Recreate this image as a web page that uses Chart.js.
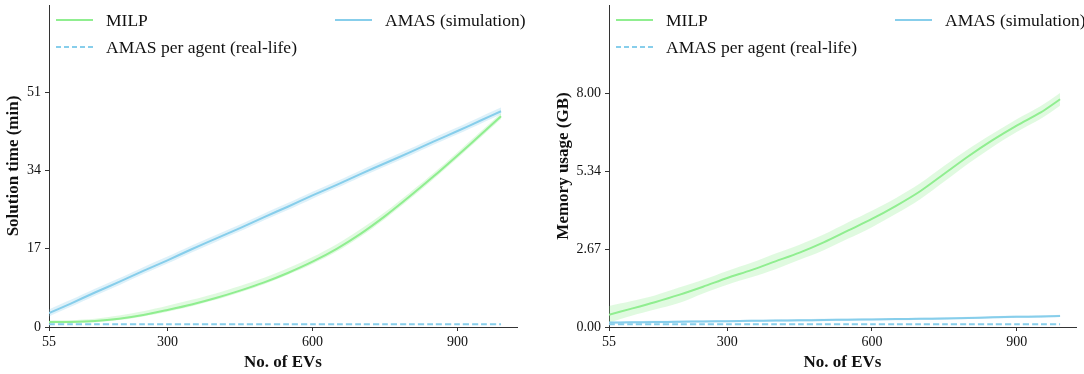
<!DOCTYPE html>
<html>
<head>
<meta charset="utf-8">
<script src="https://cdn.jsdelivr.net/npm/chart.js@4.4.1/dist/chart.umd.min.js"></script>
<style>
  html, body { margin: 0; padding: 0; background: #fff; }
  #wrap { position: relative; width: 1084px; height: 374px; }
  canvas { position: absolute; top: 0; }
  #timeChart { left: 0; }
  #memChart { left: 542px; }
</style>
</head>
<body>
<div id="wrap">
  <canvas id="timeChart" width="542" height="374"></canvas>
  <canvas id="memChart" width="542" height="374"></canvas>
</div>
<script>
// number of EVs
const evs = [55, 100, 150, 200, 250, 300, 350, 400, 450, 500, 550, 600, 650, 700, 750, 800, 850, 900, 950, 990];
const xTicks = [55, 300, 600, 900];

// solution time (min)
const milpTime = [1.1, 1.1, 1.3, 1.8, 2.6, 3.7, 4.9, 6.3, 7.9, 9.7, 11.8, 14.2, 17.0, 20.3, 24.1, 28.3, 32.7, 37.3, 42.0, 45.8];
const milpTimeLo = [0.8, 0.8, 1.0, 1.5, 2.3, 3.3, 4.5, 5.9, 7.5, 9.3, 11.4, 13.7, 16.4, 19.7, 23.5, 27.7, 32.1, 36.7, 41.4, 45.2];
const milpTimeHi = [1.4, 1.5, 1.8, 2.5, 3.4, 4.6, 5.9, 7.3, 8.9, 10.7, 12.8, 15.2, 18.0, 21.3, 25.0, 29.1, 33.4, 38.0, 42.7, 46.5];
const amasTime = [3.0, 5.1, 7.5, 9.8, 12.2, 14.5, 16.9, 19.2, 21.5, 23.9, 26.2, 28.6, 30.9, 33.3, 35.6, 37.9, 40.3, 42.6, 45.0, 46.9];
const amasTimeLo = [2.3, 4.4, 6.8, 9.1, 11.5, 13.8, 16.2, 18.5, 20.8, 23.2, 25.5, 27.9, 30.2, 32.6, 34.9, 37.2, 39.6, 41.9, 44.3, 46.2];
const amasTimeHi = [3.8, 5.9, 8.3, 10.6, 13.0, 15.3, 17.7, 20.0, 22.3, 24.7, 27.0, 29.4, 31.7, 34.1, 36.4, 38.7, 41.1, 43.4, 45.8, 47.7];
const agentTime = [0.6, 0.6, 0.6, 0.6, 0.6, 0.6, 0.6, 0.6, 0.6, 0.6, 0.6, 0.6, 0.6, 0.6, 0.6, 0.6, 0.6, 0.6, 0.6, 0.6];
const timeTicks = [0, 17, 34, 51];

// memory usage (GB)
const milpMem = [0.42, 0.62, 0.85, 1.1, 1.38, 1.68, 1.95, 2.25, 2.55, 2.9, 3.3, 3.7, 4.15, 4.65, 5.25, 5.85, 6.4, 6.9, 7.35, 7.8];
const milpMemLo = [0.15, 0.38, 0.6, 0.82, 1.15, 1.45, 1.7, 1.98, 2.3, 2.63, 3.02, 3.42, 3.88, 4.38, 4.98, 5.6, 6.17, 6.68, 7.13, 7.58];
const milpMemHi = [0.72, 0.88, 1.08, 1.35, 1.62, 1.92, 2.2, 2.52, 2.82, 3.17, 3.58, 3.98, 4.42, 4.92, 5.52, 6.1, 6.62, 7.12, 7.57, 8.02];
const amasMem = [0.15, 0.16, 0.17, 0.18, 0.19, 0.2, 0.21, 0.22, 0.23, 0.24, 0.25, 0.26, 0.27, 0.28, 0.29, 0.31, 0.33, 0.35, 0.36, 0.38];
const amasMemLo = [0.11, 0.12, 0.13, 0.14, 0.15, 0.16, 0.17, 0.18, 0.19, 0.2, 0.21, 0.22, 0.23, 0.24, 0.25, 0.27, 0.29, 0.31, 0.32, 0.34];
const amasMemHi = [0.19, 0.2, 0.21, 0.22, 0.23, 0.24, 0.25, 0.26, 0.27, 0.28, 0.29, 0.3, 0.31, 0.32, 0.33, 0.35, 0.37, 0.39, 0.4, 0.42];
const agentMem = [0.09, 0.09, 0.09, 0.09, 0.09, 0.09, 0.09, 0.09, 0.09, 0.09, 0.09, 0.09, 0.09, 0.09, 0.09, 0.09, 0.09, 0.09, 0.09, 0.09];
const memTicks = [0, 2.67, 5.34, 8.0];

const legendLabels = ['MILP', 'AMAS (simulation)', 'AMAS per agent (real-life)'];

const GREEN = '#90ee90';
const GREEN_BAND = 'rgba(144,238,144,0.28)';
const BLUE = '#87ceeb';
const BLUE_BAND = 'rgba(135,206,235,0.28)';
const FONT = "'Liberation Serif', 'Times New Roman', serif";

const pts = (ys) => ys.map((y, i) => ({ x: evs[i], y: y }));

// two-column legend like the matplotlib one
const legendPlugin = {
    id: 'twoColLegend',
    afterDraw(chart) {
        const ctx = chart.ctx;
        const left = chart.chartArea.left;
        const items = [
            { label: legendLabels[0], color: GREEN, dash: [], x: left + 7, y: 20 },
            { label: legendLabels[1], color: BLUE, dash: [], x: left + 286, y: 20 },
            { label: legendLabels[2], color: BLUE, dash: [5, 3], x: left + 7, y: 47 }
        ];
        ctx.save();
        ctx.font = '17.5px ' + FONT;
        ctx.textBaseline = 'middle';
        ctx.fillStyle = '#111';
        for (const it of items) {
            ctx.strokeStyle = it.color;
            ctx.lineWidth = 2;
            ctx.setLineDash(it.dash);
            ctx.beginPath();
            ctx.moveTo(it.x, it.y);
            ctx.lineTo(it.x + 37, it.y);
            ctx.stroke();
            ctx.setLineDash([]);
            ctx.fillText(it.label, it.x + 50, it.y + 1);
        }
        ctx.restore();
    }
};

const makeChart = (id, d, yMax, yTicks, yFmt, yTitle, yWidth, padRight, titlePad) => {
    const band = (arr, color, fill) => ({
        data: pts(arr), borderWidth: 0, pointRadius: 0,
        backgroundColor: color, fill: fill, order: 2
    });
    return new Chart(document.getElementById(id), {
        type: 'line',
        data: {
            datasets: [
                band(d.milpLo, GREEN_BAND, false),
                band(d.milpHi, GREEN_BAND, '-1'),
                band(d.amasLo, BLUE_BAND, false),
                band(d.amasHi, BLUE_BAND, '-1'),
                { data: pts(d.milp), borderColor: GREEN, borderWidth: 2, pointRadius: 0, fill: false, order: 0 },
                { data: pts(d.amas), borderColor: BLUE, borderWidth: 2, pointRadius: 0, fill: false, order: 0 },
                { data: pts(d.agent), borderColor: BLUE, borderWidth: 2, borderDash: [6, 3], pointRadius: 0, fill: false, order: 0 }
            ]
        },
        options: {
            responsive: false,
            animation: false,
            layout: { padding: { top: 5, right: padRight, bottom: 0, left: 0 } },
            plugins: { legend: { display: false }, tooltip: { enabled: false } },
            elements: { line: { tension: 0.3 } },
            scales: {
                x: {
                    type: 'linear', min: 55, max: 1023,
                    afterBuildTicks: (s) => { s.ticks = xTicks.map(v => ({ value: v })); },
                    afterFit: (s) => { s.height = 47; s.paddingLeft = 0; s.paddingRight = 0; },
                    grid: { drawOnChartArea: false, tickLength: 4, color: '#333' },
                    border: { color: '#333', width: 1 },
                    ticks: { color: '#111', font: { family: FONT, size: 14 }, padding: 3, maxRotation: 0 },
                    title: { display: true, text: 'No. of EVs', color: '#111',
                             font: { family: FONT, size: 17, weight: 'bold' }, padding: { top: 0, bottom: 1 } }
                },
                y: {
                    min: 0, max: yMax,
                    afterBuildTicks: (s) => { s.ticks = yTicks.map(v => ({ value: v })); },
                    afterFit: (s) => { s.width = yWidth; s.paddingTop = 0; s.paddingBottom = 0; },
                    grid: { drawOnChartArea: false, tickLength: 4, color: '#333' },
                    border: { color: '#333', width: 1 },
                    ticks: { color: '#111', font: { family: FONT, size: 14 }, padding: 4, callback: yFmt },
                    title: { display: true, text: yTitle, color: '#111',
                             font: { family: FONT, size: 17, weight: 'bold' }, padding: { top: titlePad, bottom: 0 } }
                }
            }
        },
        plugins: [legendPlugin]
    });
};

makeChart('timeChart',
    { milp: milpTime, milpLo: milpTimeLo, milpHi: milpTimeHi, amas: amasTime, amasLo: amasTimeLo, amasHi: amasTimeHi, agent: agentTime },
    70, timeTicks, (v) => String(v), 'Solution time (min)', 49, 25, 3);

makeChart('memChart',
    { milp: milpMem, milpLo: milpMemLo, milpHi: milpMemHi, amas: amasMem, amasLo: amasMemLo, amasHi: amasMemHi, agent: agentMem },
    11.03, memTicks, (v) => v.toFixed(2), 'Memory usage (GB)', 67, 8, 11);
</script>
</body>
</html>
